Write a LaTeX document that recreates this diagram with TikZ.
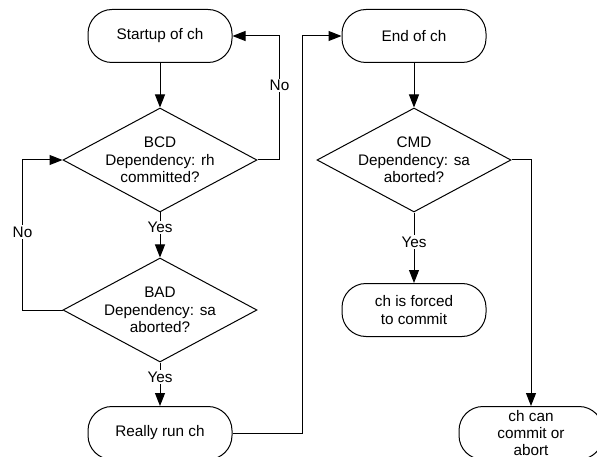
\documentclass[tikz,border=0pt]{standalone}
\usepackage{fontspec}
\setmainfont{Liberation Sans}
\usetikzlibrary{arrows.meta,shapes.geometric}
\begin{document}
\begin{tikzpicture}
        [x=1pt, y=-1pt, line width=1pt,
        font=\fontsize{15.3}{17.3}\selectfont,
        terminal/.style = {draw, rounded corners=24pt, align=center,
                        minimum width=144pt, minimum height=53pt, inner sep=0pt},
        decision/.style = {draw, diamond, aspect=1.87, align=center, inner sep=-4pt,
                        minimum width=194pt, minimum height=104pt},
        flow/.style = {-{Triangle[length=13pt,width=10pt]}},
        answer/.style = {fill=white, inner sep=1.5pt}]
        \useasboundingbox (0,0) rectangle (597,457);
        \node[terminal] (start) at (160,36) {Startup of ch};
        \node[decision] (bcd) at (160,160) {BCD\\Dependency: rh\\committed?};
        \node[decision] (bad) at (160,310) {BAD\\Dependency: sa\\aborted?};
        \node[terminal] (run) at (160,433) {Really run ch};
        \node[terminal] (endch) at (414,36) {End of ch};
        \node[decision] (cmd) at (414,160) {CMD\\Dependency: sa\\aborted?};
        \node[terminal] (forced) at (414,310) {ch is forced\\to commit};
        \node[terminal] (can) at (531,433) {ch can\\commit or\\abort};
        \draw[flow] (start) -- (bcd);
        \draw[flow] (bcd.east) -- ++(22,0) |- (start.east)
            node[answer,pos=0.3] {No};
        \draw[flow] (bcd) -- (bad) node[answer,pos=0.33] {Yes};
        \draw[flow] (bad.west) -- ++(-40,0) |- (bcd.west)
            node[answer,pos=0.26] {No};
        \draw[flow] (bad) -- (run) node[answer,pos=0.33] {Yes};
        \draw[flow] (run.east) -- ++(70,0) |- (endch.west);
        \draw[flow] (endch) -- (cmd);
        \draw[flow] (cmd) -- (forced) node[answer,pos=0.42] {Yes};
        \draw[flow] (cmd.east) -| (can.north);
\end{tikzpicture}
\end{document}
